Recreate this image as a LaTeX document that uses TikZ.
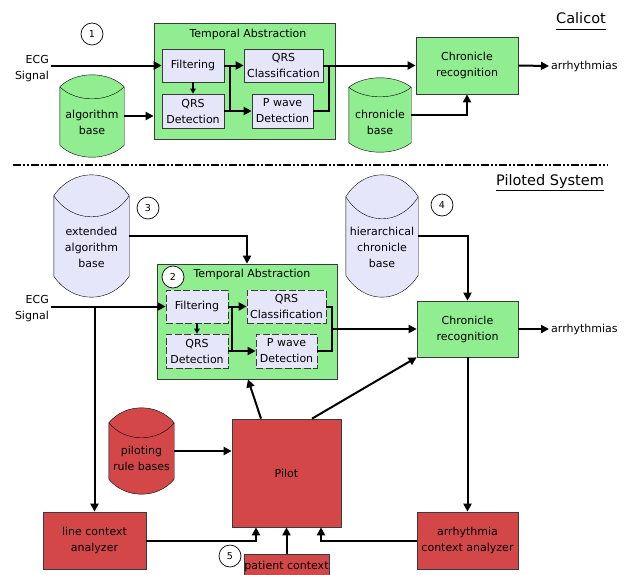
\documentclass[tikz,border=0pt]{standalone}
\usepackage{fontspec}
\setmainfont{DejaVu Sans}
\usetikzlibrary{calc, backgrounds, arrows.meta}

\definecolor{tagreen}{HTML}{90EE90}
\definecolor{modlav}{HTML}{E6E6FA}
\definecolor{pilotred}{HTML}{D44749}
\definecolor{edgegray}{HTML}{3A3A3A}

% cylinder drawn behind a named node: node, fill, depth of the ends
\newcommand{\cylbase}[3]{%
	\begin{scope}[on background layer, draw = edgegray, line width = .7pt]
		\filldraw[fill = #2]
		let \p1 = (#1.north west), \p2 = (#1.south east), \n1 = {#3}, \n2 = {(\x2-\x1)/4} in
		({\x1}, {\y1-\n1*1pt}) .. controls +({\n2*1pt}, {4/3*\n1*1pt}) and +({-\n2*1pt}, {4/3*\n1*1pt}) .. ({\x2}, {\y1-\n1*1pt})
		-- ({\x2}, {\y2+\n1*1pt}) .. controls +({-\n2*1pt}, {-4/3*\n1*1pt}) and +({\n2*1pt}, {-4/3*\n1*1pt}) .. ({\x1}, {\y2+\n1*1pt})
		-- cycle;
		\draw
		let \p1 = (#1.north west), \p2 = (#1.south east), \n1 = {#3}, \n2 = {(\x2-\x1)/4} in
		({\x1}, {\y1-\n1*1pt}) .. controls +({\n2*1pt}, {-4/3*\n1*1pt}) and +({-\n2*1pt}, {-4/3*\n1*1pt}) .. ({\x2}, {\y1-\n1*1pt});
	\end{scope}}

\begin{document}
\begin{tikzpicture}[
		x = 1pt, y = -1pt,
		every node/.style = {inner sep = 0pt, align = center, font = \fontsize{11}{16}\selectfont},
		dims/.style 2 args = {minimum width = #1pt, minimum height = #2pt},
		block/.style = {draw = edgegray, line width = .7pt, fill = tagreen},
		module/.style = {draw = edgegray, line width = .7pt, fill = modlav},
		dmodule/.style = {module, dash pattern = on 7pt off 2.5pt},
		redblock/.style = {draw = edgegray, line width = .7pt, fill = pilotred},
		num/.style = {circle, draw, fill = white, line width = .7pt, minimum size = 22pt, font = \fontsize{9.5}{9.5}\selectfont},
		title/.style = {anchor = base, font = \fontsize{14.5}{16}\selectfont},
		textin/.style = {inner sep = 2pt},
		wire/.style = {line width = 2pt},
		arr/.style = {wire, -{Triangle[length = 8pt, width = 8pt]}},
		sarr/.style = {line width = 1.4pt, -{Triangle[length = 5pt, width = 5.5pt]}}
		]
		\useasboundingbox (0,0) rectangle (629,574);
		
		% Calicot
		\node[title] (cal) at (581,23) {Calicot};
		\draw[line width = .7pt] ([yshift = -6pt]cal.base west) -- ([yshift = -6pt]cal.base east);
		\node[num] (c1) at (92,34) {1};
		\node[block, dims = {181}{116}] (ta1) at (244.5,81) {};
		\node (ta1t) at (248,34) {Temporal Abstraction};
		\node[module, dims = {62}{33}] (filt1) at (193,65.5) {Filtering};
		\node[module, dims = {62}{34}] (qrsd1) at (193,111) {QRS\\Detection};
		\node[module, dims = {79}{33}] (qrsc1) at (283.5,65.5) {QRS\\Classification};
		\node[module, dims = {61}{34}] (pwd1) at (282.5,111) {P wave\\Detection};
		\node[dims = {64}{82}, label = {[yshift = -6pt]center:{algorithm\\base}}] (alg1) at (92,116) {};
		\cylbase{alg1}{tagreen}{12}
		\node[textin, anchor = east, align = right] (ecg1) at (51,69) {ECG\\Signal};
		\node[block, dims = {102}{57}] (chr1) at (467,65.5) {Chronicle\\recognition};
		\node[dims = {62}{74}, label = {[yshift = -7pt]center:{chronicle\\base}}] (chb1) at (380,115) {};
		\cylbase{chb1}{tagreen}{9.5}
		\node[textin, anchor = west] (arr1) at (549,66) {arrhythmias};
		\coordinate (j1) at (230,65.5);
		\coordinate (k1) at (329,65.5);
		
		\draw[arr] (ecg1.east |- filt1.west) -- (filt1.west);
		\draw[arr] (alg1.east) -- (ta1.west |- alg1.east);
		\draw[sarr] (filt1.south) -- (qrsd1.north);
		\draw[arr] (filt1.east) -- (qrsc1.west);
		\draw[arr] (j1) |- (pwd1.west);
		\draw[wire] (qrsd1.east) -- (qrsd1.east -| j1);
		\draw[arr] (qrsc1.east) -- (chr1.west);
		\draw[wire] (k1) |- (pwd1.east);
		\draw[arr] (chb1.east) -| (chr1.south);
		\draw[arr] (chr1.east) -- (arr1.west);
		
		% separator
		\draw[line width = 2.4pt, dash pattern = on 8pt off 2pt on 2pt off 2pt on 2pt off 2pt] (13,165) -- (608,165);
		
		% Piloted System
		\node[title] (pil) at (550,185) {Piloted System};
		\draw[line width = .7pt] ([yshift = -5pt]pil.base west) -- ([yshift = -5pt]pil.base east);
		\node[dims = {75}{122}, label = {[yshift = -11pt]center:{extended\\algorithm\\base}}] (ext) at (91.5,236) {};
		\cylbase{ext}{modlav}{21}
		\node[num] (c3) at (148,208) {3};
		\node[block, dims = {180}{115}] (ta2) at (247,321.5) {};
		\node[num] (c2) at (173,277) {2};
		\node (ta2t) at (252,274) {Temporal Abstraction};
		\node[dmodule, dims = {62}{33}] (filt2) at (197,306.5) {Filtering};
		\node[dmodule, dims = {62}{34}] (qrsd2) at (197,351) {QRS\\Detection};
		\node[dmodule, dims = {79}{33}] (qrsc2) at (286.5,306.5) {QRS\\Classification};
		\node[dmodule, dims = {61}{34}] (pwd2) at (286.5,351) {P wave\\Detection};
		\node[textin, anchor = east, align = right] (ecg2) at (51,309) {ECG\\Signal};
		\node[dims = {72}{122}, label = {[yshift = -11pt]center:{hierarchical\\chronicle\\base}}] (hcb) at (382,236) {};
		\cylbase{hcb}{modlav}{22}
		\node[num] (c4) at (442,205) {4};
		\node[block, dims = {101}{56}] (chr2) at (467.5,329) {Chronicle\\recognition};
		\node[textin, anchor = west] (arr2) at (549,329) {arrhythmias};
		\node[dims = {65}{86}, label = {[yshift = -7pt]center:{piloting\\rule bases}}] (prb) at (141.5,451) {};
		\cylbase{prb}{pilotred}{15}
		\node[redblock, dims = {109}{108}] (pilot) at (286.5,473) {Pilot};
		\node[redblock, dims = {103}{57}] (lca) at (94.5,540.5) {line context\\analyzer};
		\node[redblock, dims = {101}{57}] (aca) at (467.5,540.5) {arrhythmia\\context analyzer};
		\node[num] (c5) at (230,556) {5};
		\node[redblock, dims = {85}{24}] (pc) at (286.5,566) {patient context};
		\coordinate (j2) at (232,306.5);
		\coordinate (k2) at (332,306.5);
		
		\draw[arr] (ext.east) -| (ta2.north);
		\draw[arr] (hcb.east) -| (chr2.north);
		\draw[arr] (ecg2.east |- filt2.west) -- (filt2.west);
		\draw[arr] (lca.north |- filt2.west) -- (lca.north);
		\draw[sarr] (filt2.south) -- (qrsd2.north);
		\draw[arr] (filt2.east) -- (qrsc2.west);
		\draw[arr] (j2) |- (pwd2.west);
		\draw[wire] (qrsd2.east) -- (qrsd2.east -| j2);
		\draw[wire] (qrsc2.east) -- (k2) |- (pwd2.east);
		\draw[arr] (k2 |- chr2.west) -- (chr2.west);
		\draw[arr] (chr2.east) -- (arr2.west);
		\draw[arr] ([xshift = -25.5pt]pilot.north) -- ([xshift = 1pt]ta2.south);
		\draw[arr] ([xshift = 25.5pt]pilot.north) -- (chr2.south west);
		\draw[arr] (chr2.south) -- (aca.north);
		\draw[arr] (prb.east) -- (prb.east -| pilot.west);
		\draw[arr] (lca.east) -| ([xshift = -30.5pt]pilot.south);
		\draw[arr] (pc.north) -- (pilot.south);
		\draw[arr] (aca.west) -| ([xshift = 34.5pt]pilot.south);
	\end{tikzpicture}
\end{document}
